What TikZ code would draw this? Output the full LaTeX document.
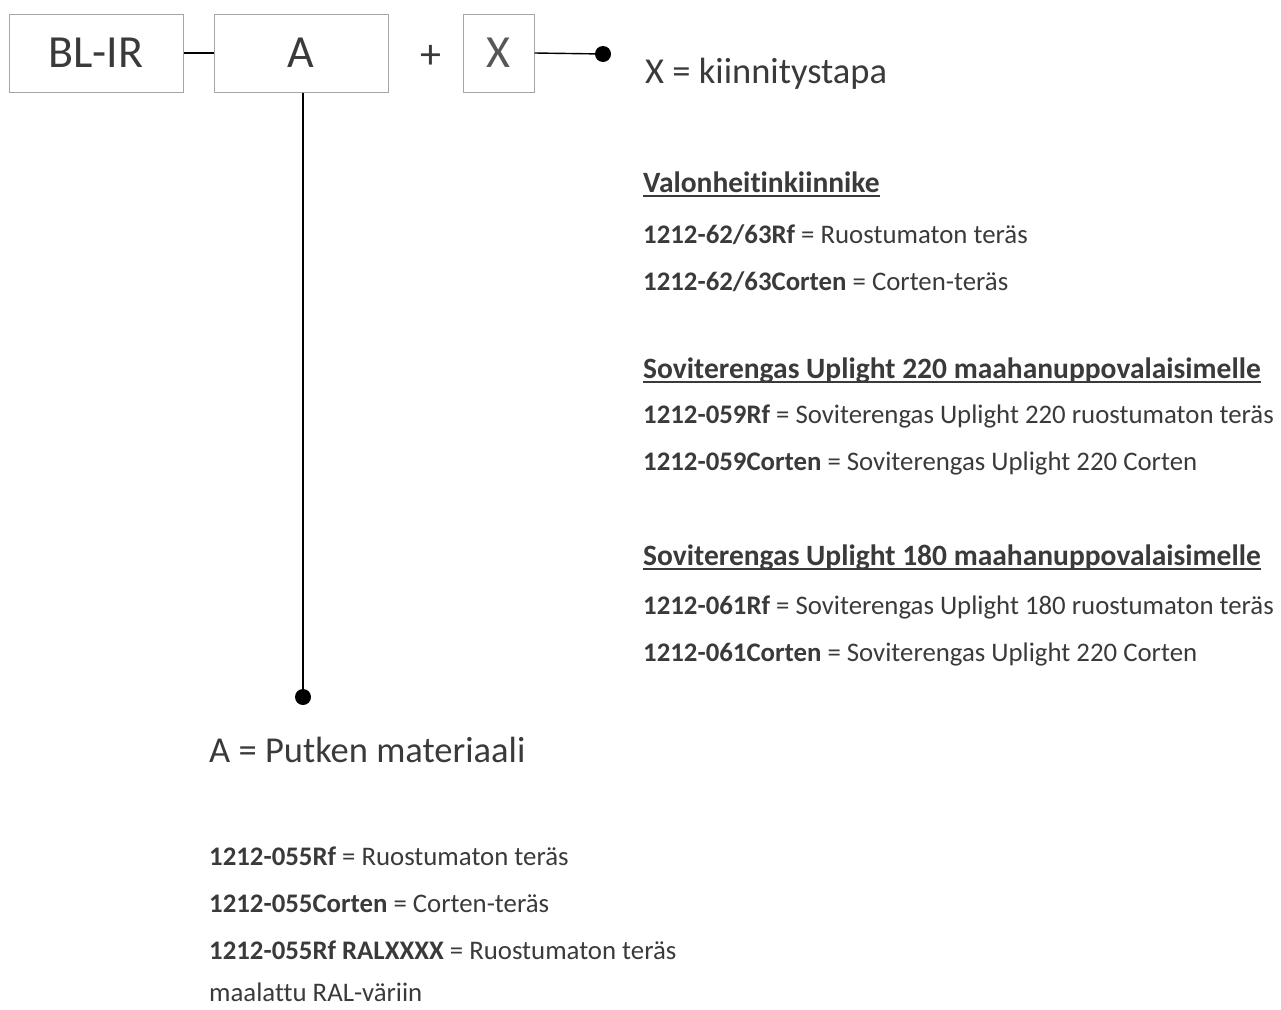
\documentclass[tikz,border=0pt]{standalone}
\usepackage{fontspec}
\setmainfont{Carlito}[Ligatures=NoCommon]
\definecolor{txt}{HTML}{3A3A3A}
\definecolor{boxline}{HTML}{A6A6A6}
\newcommand\myul[1]{\setbox0\hbox{#1}\rlap{\rule[-0.16em]{\wd0}{0.07em}}\box0}
\tikzset{
  box/.style={draw=boxline, line width=1pt, inner sep=0pt, minimum height=78pt, text=txt, font=\fontsize{46}{50}\selectfont},
  big/.style={anchor=base west, inner sep=0pt, text=txt, font=\fontsize{36.5}{40}\selectfont},
  small/.style={anchor=base west, inner sep=0pt, text=txt, font=\fontsize{26.8}{30}\selectfont},
  head/.style={anchor=base west, inner sep=0pt, text=txt, font=\fontsize{29.5}{33}\selectfont\bfseries},
  conn/.style={line width=1.4pt, black},
  dot/.style={circle, fill=black, inner sep=0pt, minimum size=16pt}
}
\begin{document}
\begin{tikzpicture}[x=1pt,y=-1pt]
\useasboundingbox (0,0) rectangle (1281,1009);
% boxes
\node[box, minimum width=174pt] (bl) at (96,53) {BL-IR};
\node[box, minimum width=174pt] (a) at (301,53) {A};
\node[anchor=center, inner sep=0pt, text=txt, font=\fontsize{42}{46}\selectfont] (plus) at (431,57) {+};
\node[box, minimum width=71pt, text=txt!85] (x) at (498.5,53) {X};
\node[dot] (dx) at (603,54) {};
\node[dot] (da) at (303,697) {};
\draw[conn] (bl.east) -- (a.west);
\draw[conn] (x.east) -- (dx);
\draw[conn] (a.south -| da) -- (da);
% X labels
\node[big] (xt) at (645,83) {X = kiinnitystapa};
\node[head] (h1) at (643,192) {\myul{Valonheitinkiinnike}};
\node[small] (l1) at (643,243) {\textbf{1212-62/63Rf} = Ruostumaton teräs};
\node[small] (l2) at (643,290) {\textbf{1212-62/63Corten} = Corten-teräs};
\node[head] (h2) at (643,378) {\myul{Soviterengas Uplight 220 maahanuppovalaisimelle}};
\node[small] (l3) at (643,423) {\textbf{1212-059Rf} = Soviterengas Uplight 220 ruostumaton teräs};
\node[small] (l4) at (643,470) {\textbf{1212-059Corten} = Soviterengas Uplight 220 Corten};
\node[head] (h3) at (643,565) {\myul{Soviterengas Uplight 180 maahanuppovalaisimelle}};
\node[small] (l5) at (643,614) {\textbf{1212-061Rf} = Soviterengas Uplight 180 ruostumaton teräs};
\node[small] (l6) at (643,661) {\textbf{1212-061Corten} = Soviterengas Uplight 220 Corten};
% A labels
\node[big] (at) at (209,762) {A = Putken materiaali};
\node[small] (m1) at (209,865) {\textbf{1212-055Rf} = Ruostumaton teräs};
\node[small] (m2) at (209,912) {\textbf{1212-055Corten} = Corten-teräs};
\node[small] (m3) at (209,959) {\textbf{1212-055Rf RALXXXX} = Ruostumaton teräs};
\node[small] (m4) at (209,1001) {maalattu RAL-väriin};
\end{tikzpicture}
\end{document}
